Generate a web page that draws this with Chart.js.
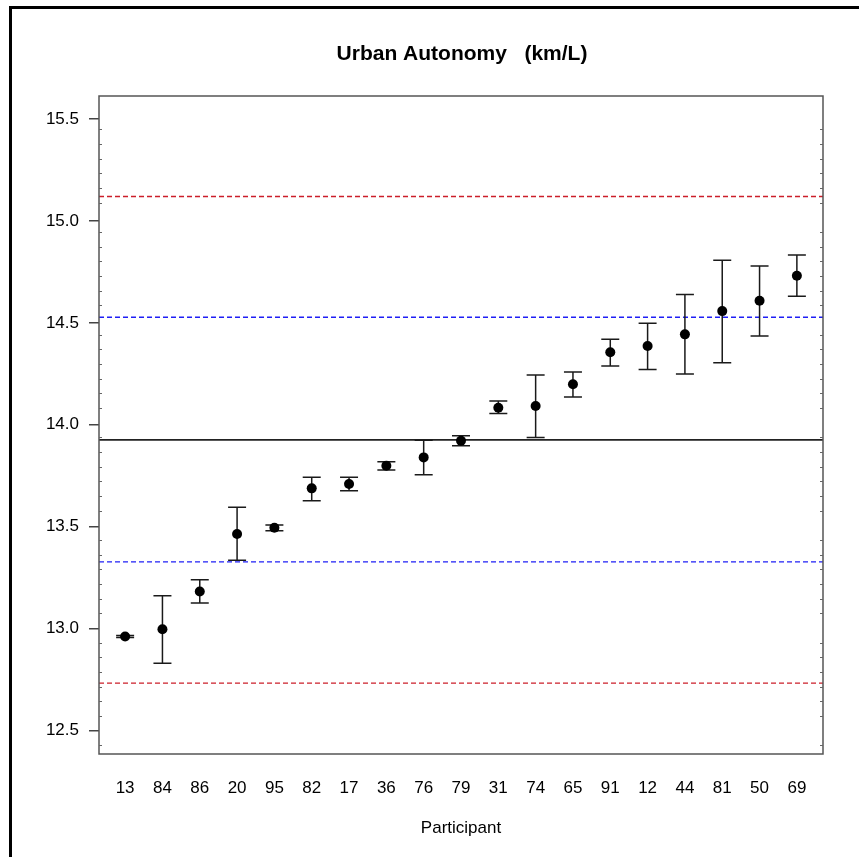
<!DOCTYPE html>
<html>
<head>
<meta charset="utf-8">
<script src="https://cdn.jsdelivr.net/npm/chart.js@4/dist/chart.umd.min.js"></script>
<style>
  html, body { margin: 0; padding: 0; background: #fff; }
  #wrap { position: relative; width: 859px; height: 857px; }
  #c { position: absolute; left: 0; top: 0; }
  #frame { position: absolute; left: 9px; top: 6px; width: 900px; height: 900px;
           border-left: 3px solid #000; border-top: 3px solid #000; pointer-events: none; }
</style>
</head>
<body>
<div id="wrap">
  <canvas id="c" width="859" height="857"></canvas>
  <div id="frame"></div>
</div>
<script>
// ---- data ----
const participants = ['13','84','86','20','95','82','17','36','76','79','31','74','65','91','12','44','81','50','69'];
const means = [12.961, 12.996, 13.182, 13.464, 13.495, 13.688, 13.709, 13.799, 13.840, 13.922,
               14.084, 14.092, 14.199, 14.356, 14.387, 14.444, 14.558, 14.609, 14.732];
const upperBars = [12.966, 13.161, 13.239, 13.595, 13.508, 13.743, 13.743, 13.819, 13.924, 13.946,
                   14.117, 14.244, 14.259, 14.420, 14.498, 14.640, 14.808, 14.779, 14.833];
const lowerBars = [12.956, 12.829, 13.125, 13.335, 13.480, 13.627, 13.676, 13.778, 13.755, 13.897,
                   14.056, 13.938, 14.136, 14.289, 14.272, 14.249, 14.305, 14.436, 14.631];
const grandMean = 13.926;
const innerLimits = [13.327, 14.528];
const outerLimits = [12.732, 15.121];
const yTickValues = [12.5, 13.0, 13.5, 14.0, 14.5, 15.0, 15.5];
const titleText = 'Urban Autonomy   (km/L)';
const xTitle = 'Participant';

const FONT = "'Liberation Sans', Arial, Helvetica, sans-serif";

const overlay = {
  id: 'overlay',
  beforeDatasetsDraw(chart) {
    const ctx = chart.ctx, a = chart.chartArea;
    const ys = chart.scales.y, xs = chart.scales.x;
    ctx.save();
    const hline = (v, color, dash, w) => {
      const py = ys.getPixelForValue(v);
      ctx.beginPath();
      ctx.setLineDash(dash);
      ctx.strokeStyle = color;
      ctx.lineWidth = w;
      ctx.moveTo(a.left, py); ctx.lineTo(a.right, py);
      ctx.stroke();
    };
    outerLimits.forEach(v => hline(v, '#cc1f2a', [5, 3], 1.4));
    innerLimits.forEach(v => hline(v, '#1f1ff5', [5, 3], 1.4));
    hline(grandMean, '#222', [], 1.6);
    ctx.setLineDash([]);
    ctx.strokeStyle = '#1a1a1a';
    ctx.lineWidth = 1.5;
    means.forEach((m, i) => {
      const px = xs.getPixelForValue(i + 1);
      const pu = ys.getPixelForValue(upperBars[i]);
      const pl = ys.getPixelForValue(lowerBars[i]);
      ctx.beginPath();
      ctx.moveTo(px, pu); ctx.lineTo(px, pl);
      ctx.moveTo(px - 9, pu); ctx.lineTo(px + 9, pu);
      ctx.moveTo(px - 9, pl); ctx.lineTo(px + 9, pl);
      ctx.stroke();
    });
    ctx.restore();
  },
  afterDraw(chart) {
    const ctx = chart.ctx, a = chart.chartArea, ys = chart.scales.y;
    ctx.save();
    ctx.strokeStyle = '#555';
    ctx.lineWidth = 1.5;
    ctx.strokeRect(a.left, a.top, a.right - a.left, a.bottom - a.top);
    ctx.lineWidth = 1;
    ctx.strokeStyle = '#666';
    for (let v = 15.45; v > ys.min; v -= 0.072) {
      if (yTickValues.some(t => Math.abs(t - v) < 0.02)) continue;
      const py = Math.round(ys.getPixelForValue(v)) + 0.5;
      ctx.beginPath();
      ctx.moveTo(a.left, py); ctx.lineTo(a.left + 3, py);
      ctx.moveTo(a.right, py); ctx.lineTo(a.right - 3, py);
      ctx.stroke();
    }
    ctx.fillStyle = '#000';
    ctx.font = "bold 21px " + FONT;
    ctx.textAlign = 'center';
    ctx.textBaseline = 'middle';
    ctx.fillText(titleText, (a.left + a.right) / 2 + 1, 54);
    ctx.restore();
  }
};

new Chart(document.getElementById('c'), {
  type: 'scatter',
  data: {
    datasets: [{
      data: means.map((m, i) => ({ x: i + 1, y: m })),
      pointRadius: 5,
      pointHoverRadius: 5,
      pointBackgroundColor: '#000',
      pointBorderColor: '#000',
      pointBorderWidth: 0
    }]
  },
  options: {
    responsive: false,
    animation: false,
    layout: { padding: { left: 0, right: 36, top: 96, bottom: 0 } },
    plugins: {
      legend: { display: false },
      tooltip: { enabled: false },
      title: { display: false }
    },
    scales: {
      x: {
        type: 'linear',
        min: 0.3, max: 19.7,
        afterFit(s) { s.height = 103; },
        afterBuildTicks(s) { s.ticks = participants.map((p, i) => ({ value: i + 1 })); },
        grid: { display: false, drawTicks: false },
        border: { display: false },
        ticks: {
          color: '#000',
          font: { family: FONT, size: 17 },
          padding: 24,
          maxRotation: 0,
          autoSkip: false,
          callback: (v) => participants[Math.round(v) - 1] ?? ''
        },
        title: {
          display: true,
          text: xTitle,
          color: '#000',
          font: { family: FONT, size: 17 },
          padding: { top: 0, bottom: 18 }
        }
      },
      y: {
        min: 12.384, max: 15.614,
        afterFit(s) { s.width = 99; },
        afterBuildTicks(s) { s.ticks = yTickValues.map(v => ({ value: v })); },
        grid: { drawOnChartArea: false, drawTicks: true, tickLength: 10, color: '#444', lineWidth: 1.5 },
        border: { display: false },
        ticks: {
          color: '#000',
          font: { family: FONT, size: 17 },
          padding: 10,
          callback: (v) => Number(v).toFixed(1)
        }
      }
    }
  },
  plugins: [overlay]
});
</script>
</body>
</html>
